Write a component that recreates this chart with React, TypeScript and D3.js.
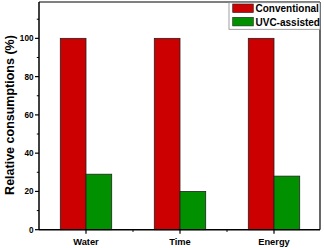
import React from "react";
import * as d3 from "d3";

const categories = ["Water", "Time", "Energy"];
const seriesNames = ["Conventional", "UVC-assisted"];
const conventional = [100, 100, 100];
const uvcAssisted = [29, 20, 28];
const yTicks = [0, 20, 40, 60, 80, 100];
const yMinorTicks = [10, 30, 50, 70, 90, 110];
const colors = ["#cc0000", "#009000"];

export default function App() {
  const W = 324, H = 248;
  const left = 39, right = 320, top = 2, bottom = 229.7;
  const x = d3.scaleBand<string>().domain(categories).range([left, 321]).padding(0);
  const y = d3.scaleLinear().domain([0, 119]).range([bottom, top]);
  const sub = d3.scaleBand<string>().domain(seriesNames).range([-25.7, 25.7]).padding(0);
  const values = [conventional, uvcAssisted];
  const font = "'Liberation Sans', Arial, sans-serif";
  const centers = categories.map((c) => (x(c) as number) + x.bandwidth() / 2);
  const mids = centers.slice(0, -1).map((c, i) => (c + centers[i + 1]) / 2);

  return (
    <svg width={W} height={H} style={{ position: "absolute", left: 0, top: 0, background: "#fff" }}>
      {/* bars */}
      {categories.map((c, i) =>
        seriesNames.map((s, j) => {
          const cx = centers[i] + (sub(s) as number);
          const v = values[j][i];
          return (
            <rect
              key={c + s}
              x={cx}
              y={y(v)}
              width={sub.bandwidth()}
              height={bottom - y(v)}
              fill={colors[j]}
              stroke="#222"
              strokeWidth={0.8}
            />
          );
        })
      )}
      {/* frame */}
      <line x1={left} x2={right} y1={top} y2={top} stroke="#000" strokeWidth={1.2} />
      <line x1={right} x2={right} y1={top} y2={bottom} stroke="#000" strokeWidth={1.2} />
      <line x1={left} x2={left} y1={top} y2={bottom} stroke="#000" strokeWidth={1.5} />
      <line x1={left} x2={right} y1={bottom} y2={bottom} stroke="#000" strokeWidth={1.5} />
      {/* y ticks */}
      {yTicks.map((t) => (
        <g key={t}>
          <line x1={left - 4} x2={left} y1={y(t)} y2={y(t)} stroke="#000" strokeWidth={1.2} />
          <text x={left - 5.5} y={y(t) + 2.9} textAnchor="end" fontFamily={font} fontWeight="bold" fontSize={8.2} fill="#000">
            {t}
          </text>
        </g>
      ))}
      {yMinorTicks.map((t) => (
        <line key={t} x1={left - 2.2} x2={left} y1={y(t)} y2={y(t)} stroke="#000" strokeWidth={1} />
      ))}
      {/* x ticks */}
      {centers.map((c, i) => (
        <g key={i}>
          <line x1={c} x2={c} y1={bottom} y2={bottom + 4} stroke="#000" strokeWidth={1.2} />
          <text x={c} y={245} textAnchor="middle" fontFamily={font} fontWeight="bold" fontSize={9.3} fill="#000">
            {categories[i]}
          </text>
        </g>
      ))}
      {mids.map((m, i) => (
        <line key={i} x1={m} x2={m} y1={bottom} y2={bottom + 2.2} stroke="#000" strokeWidth={1} />
      ))}
      {/* y label */}
      <text
        transform={`translate(13.8, 115) rotate(-90)`}
        textAnchor="middle"
        fontFamily={font}
        fontWeight="bold"
        fontSize={12.5}
        fill="#000"
      >
        Relative consumptions (%)
      </text>
      {/* legend */}
      <rect x={229} y={2.7} width={91} height={26.6} fill="#fff" stroke="#888" strokeWidth={0.8} />
      {seriesNames.map((s, j) => (
        <g key={s}>
          <rect x={232.7} y={4 + j * 13.3} width={20.6} height={8.6} fill={colors[j]} stroke="#222" strokeWidth={0.6} />
          <text x={255.5} y={12.2 + j * 13.5} fontFamily={font} fontWeight="bold" fontSize={10} fill="#000">
            {s}
          </text>
        </g>
      ))}
    </svg>
  );
}
